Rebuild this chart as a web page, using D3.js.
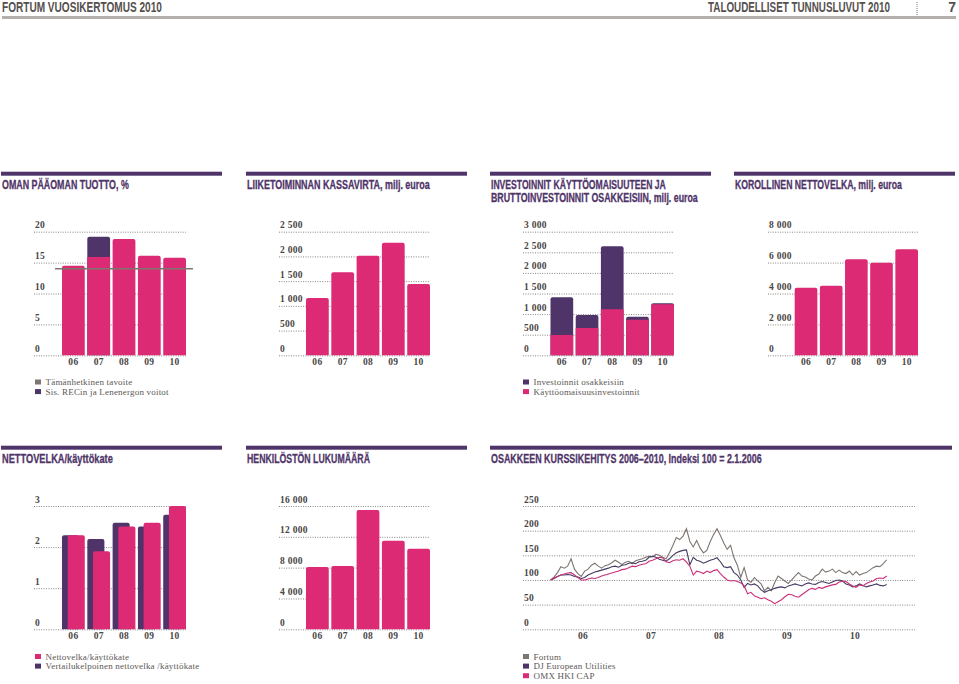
<!DOCTYPE html>
<html>
<head>
<meta charset="utf-8">
<script src="https://d3js.org/d3.v7.min.js"></script>
<style>
    body { margin: 0; background: #fff; }
    svg { display: block; }
    .title { font-family: "Liberation Sans", sans-serif; font-weight: bold; font-size: 13px; fill: #4f3469; stroke: #4f3469; stroke-width: 0.3px; }
    .head { font-family: "Liberation Sans", sans-serif; font-weight: bold; font-size: 14px; fill: #55504e; }
    .tick text { font-family: "Liberation Serif", serif; font-size: 9.5px; font-weight: bold; letter-spacing: 0.3px; fill: #4a4644; }
    .legend { font-family: "Liberation Serif", serif; font-size: 9px; letter-spacing: 0.2px; fill: #5c5755; }
</style>
</head>
<body>
<div id="chart"></div>
<script>
var years = ["06", "07", "08", "09", "10"];

// top row
var roeValues = [14.5, 15.9, 18.8, 16.1, 15.8];
var roeExtra = [0, 3.3, 0, 0, 0];
var roeTarget = 14;
var roeTicks = [0, 5, 10, 15, 20];

var cashFlow = [1159, 1678, 2015, 2278, 1442];
var cashTicks = [0, 500, 1000, 1500, 2000, 2500];

var capex = [493, 663, 1116, 865, 1237];
var shareInvest = [914, 315, 1528, 73, 24];
var investTicks = [0, 500, 1000, 1500, 2000, 2500, 3000];

var netDebt = [4377, 4507, 6210, 5995, 6857];
var debtTicks = [0, 2000, 4000, 6000, 8000];

// bottom row
var debtRatio = [2.29, 1.9, 2.5, 2.59, 3.0];
var debtRatioComparable = [2.29, 2.2, 2.59, 2.5, 2.79];
var ratioTicks = [0, 1, 2, 3];

var personnel = [8086, 8216, 15481, 11503, 10465];
var personnelTicks = [0, 4000, 8000, 12000, 16000];

// share price index, about 20 readings a year
var fortum = [
    100,106,115,127,124,128,143,122,113,107,
    118,122,130,134,128,124,129,131,135,140,
    136,131,136,138,133,139,141,143,146,148,
    147,152,150,146,143,155,170,186,182,189,
    204,178,167,180,165,155,160,178,192,204,
    190,175,162,170,145,130,105,125,100,95,
    105,98,92,78,85,78,95,108,103,98,
    93,100,108,115,108,106,102,100,108,112,
    122,116,118,122,115,120,115,113,118,110,
    117,110,113,115,120,125,128,127,133,141
];
var djUtilities = [
    100,103,107,110,110,111,110,107,106,103,
    105,110,113,116,118,120,122,124,127,128,
    126,130,131,134,135,133,137,138,140,146,
    148,146,142,140,138,143,150,155,158,160,
    161,131,146,140,138,134,137,140,142,145,
    137,127,125,127,115,110,100,85,93,90,
    92,88,80,75,78,80,83,85,86,84,
    88,90,92,90,88,92,94,92,91,95,
    97,95,93,96,99,100,98,92,90,86,
    88,92,89,86,88,90,92,89,88,91
];
var omxHki = [
    100,104,107,110,112,114,115,110,105,100,
    100,102,104,103,105,108,110,112,114,116,
    118,121,122,125,128,127,130,132,133,138,
    140,143,146,145,137,135,139,141,140,143,
    136,128,110,118,116,113,118,115,119,121,
    113,106,100,98,99,97,94,88,72,75,
    68,65,62,64,60,57,52,56,60,66,
    71,70,67,65,70,75,80,83,81,85,
    83,86,88,90,91,96,98,97,92,88,
    85,90,88,93,96,98,103,104,103,108
];
var priceTicks = [0, 50, 100, 150, 200, 250];

var pink = "#dc2a74", purple = "#4f3469", grey = "#7d7670";
var width = 959, height = 684;

var svg = d3.select("#chart").append("svg")
    .attr("width", width)
    .attr("height", height);

// no narrow font installed, so the text is squeezed to the measured width
function squeezed(cls, x, y, w, s) {
    var t = svg.append("text").attr("class", cls).text(s);
    var natural = t.node().getComputedTextLength();
    t.attr("transform", "translate(" + x + "," + y + ") scale(" + (w / natural) + ",1)");
    return t;
}

// page header
svg.append("rect").attr("x", 2).attr("y", 16).attr("width", 954).attr("height", 3).attr("fill", "#b3b0ae");
squeezed("head", 2, 12, 160, "FORTUM VUOSIKERTOMUS 2010");
squeezed("head", 708, 12, 182, "TALOUDELLISET TUNNUSLUVUT 2010");
svg.append("text").attr("class", "head").attr("x", 956).attr("y", 12).attr("text-anchor", "end").text("7");
svg.append("line").attr("x1", 917).attr("x2", 917).attr("y1", 2).attr("y2", 15)
    .attr("stroke", "#777").attr("stroke-dasharray", "1,1");

function title(x, w, y, lines, widths) {
    svg.append("rect").attr("x", x).attr("y", y).attr("width", w).attr("height", 4).attr("fill", purple);
    lines.forEach(function(l, i) {
        squeezed("title", x + 1, y + 17 + i * 13, widths[i], l);
    });
}

function legend(x, y, items) {
    items.forEach(function(it, i) {
        svg.append("rect").attr("x", x).attr("y", y + i * 9.6 - 2.5).attr("width", 6).attr("height", 5).attr("fill", it[1]);
        svg.append("text").attr("class", "legend").attr("x", x + 10.5).attr("y", y + i * 9.6 + 3).text(it[0]);
    });
}

function spaced(d) {
    return d3.format(",")(d).replace(",", " ");
}

// dotted grid with labels sitting on top of the lines
function yAxis(g, y, ticks, x0, x1) {
    g.attr("transform", "translate(" + x0 + ",0)")
        .call(d3.axisRight(y).tickValues(ticks).tickSize(x1 - x0).tickFormat(spaced));
    g.select(".domain").remove();
    g.selectAll(".tick line")
        .attr("stroke", "#6b6765")
        .attr("stroke-width", 0.8)
        .attr("stroke-dasharray", "1,1.4");
    g.selectAll(".tick text")
        .attr("x", 1)
        .attr("dy", -4);
}

function xAxis(g, scale, bottom) {
    g.attr("transform", "translate(0," + bottom + ")")
        .call(d3.axisBottom(scale).tickSize(0).tickPadding(2.5));
    g.select(".domain").remove();
}

function topRound(x, yTop, w, yBase, r) {
    return "M" + x + "," + yBase + "V" + (yTop + r) + "Q" + x + "," + yTop + " " + (x + r) + "," + yTop +
        "H" + (x + w - r) + "Q" + (x + w) + "," + yTop + " " + (x + w) + "," + (yTop + r) + "V" + yBase + "Z";
}

// frame: grid x0..x1, bars start at barX, value top..bottom in pixels
function barChart(opt) {
    var y = d3.scaleLinear().domain([0, d3.max(opt.ticks)]).range([opt.bottom, opt.top]);
    var x = d3.scaleBand().domain(years).range([opt.barX, opt.x1]).paddingInner(0.1);
    var g = svg.append("g");
    yAxis(g.append("g"), y, opt.ticks, opt.x0, opt.x1);
    xAxis(g.append("g"), x, opt.bottom);

    var shift = opt.overlap ? x.bandwidth() * 0.25 : 0;
    var w = x.bandwidth() - shift;

    if (opt.behind) {
        g.selectAll(".behind").data(years).enter().append("path")
            .attr("fill", purple)
            .attr("d", function(d, i) { return topRound(x(d), y(opt.behind[i]), w, opt.bottom, 2); });
    }
    if (opt.extra) {
        g.selectAll(".extra").data(years).enter().append("path")
            .attr("fill", purple)
            .attr("d", function(d, i) {
                return opt.extra[i] > 0 ? topRound(x(d), y(opt.values[i] + opt.extra[i]), w, opt.bottom, 2) : null;
            });
    }
    g.selectAll(".bar").data(years).enter().append("path")
        .attr("fill", pink)
        .attr("d", function(d, i) {
            var r = opt.extra && opt.extra[i] > 0 ? 0 : 2;
            return topRound(x(d) + shift, y(opt.values[i]), w, opt.bottom, r);
        });
    return y;
}

// top row
var topA = 231.7, bottomA = 355.3;
title(1, 221, 171.7, ["OMAN PÄÄOMAN TUOTTO, %"], [127]);
var roeY = barChart({ x0: 34, x1: 186, barX: 62, top: topA, bottom: bottomA, ticks: roeTicks, values: roeValues, extra: roeExtra });
svg.append("line").attr("x1", 55).attr("x2", 193)
    .attr("y1", roeY(roeTarget)).attr("y2", roeY(roeTarget))
    .attr("stroke", grey).attr("stroke-width", 1.6);
legend(35, 382, [["Tämänhetkinen tavoite", grey], ["Sis. RECin ja Lenenergon voitot", purple]]);

title(246, 221, 171.7, ["LIIKETOIMINNAN KASSAVIRTA, milj. euroa"], [183]);
barChart({ x0: 279, x1: 430, barX: 306, top: topA, bottom: bottomA, ticks: cashTicks, values: cashFlow });

title(490, 221, 171.7, ["INVESTOINNIT KÄYTTÖOMAISUUTEEN JA", "BRUTTOINVESTOINNIT OSAKKEISIIN, milj. euroa"], [175, 207]);
barChart({ x0: 523, x1: 674, barX: 550.5, top: topA, bottom: bottomA, ticks: investTicks, values: capex, extra: shareInvest });
legend(523, 382, [["Investoinnit osakkeisiin", purple], ["Käyttöomaisuusinvestoinnit", pink]]);

title(734, 221, 171.7, ["KOROLLINEN NETTOVELKA, milj. euroa"], [167]);
barChart({ x0: 768, x1: 918, barX: 794.7, top: topA, bottom: bottomA, ticks: debtTicks, values: netDebt });

// bottom row
var topB = 506, bottomB = 629.3;
title(1, 221, 445.7, ["NETTOVELKA/käyttökate"], [111]);
barChart({ x0: 34, x1: 186, barX: 62, top: topB, bottom: bottomB, ticks: ratioTicks, values: debtRatio, behind: debtRatioComparable, overlap: true });
legend(35, 656.5, [["Nettovelka/käyttökate", pink], ["Vertailukelpoinen nettovelka /käyttökate", purple]]);

title(246, 221, 445.7, ["HENKILÖSTÖN LUKUMÄÄRÄ"], [123]);
barChart({ x0: 279, x1: 430, barX: 306, top: topB, bottom: bottomB, ticks: personnelTicks, values: personnel });

// share price lines
title(490, 462, 445.7, ["OSAKKEEN KURSSIKEHITYS 2006–2010, Indeksi 100 = 2.1.2006"], [271]);
var priceY = d3.scaleLinear().domain([0, 250]).range([bottomB, topB]);
var priceX = d3.scaleLinear().domain([0, fortum.length - 1]).range([550.7, 886.7]);
var yearX = d3.scaleBand().domain(years).range([549, 889]);
var pg = svg.append("g");
yAxis(pg.append("g"), priceY, priceTicks, 523, 915);
xAxis(pg.append("g"), yearX, bottomB);

var line = d3.line()
    .x(function(d, i) { return priceX(i); })
    .y(function(d) { return priceY(d); });

[[fortum, grey], [djUtilities, "#453a63"], [omxHki, "#c92f78"]].forEach(function(s) {
    pg.append("path")
        .attr("d", line(s[0]))
        .attr("fill", "none")
        .attr("stroke", s[1])
        .attr("stroke-width", 1.1);
});
legend(523, 656.5, [["Fortum", grey], ["DJ European Utilities", purple], ["OMX HKI CAP", pink]]);
</script>
</body>
</html>
